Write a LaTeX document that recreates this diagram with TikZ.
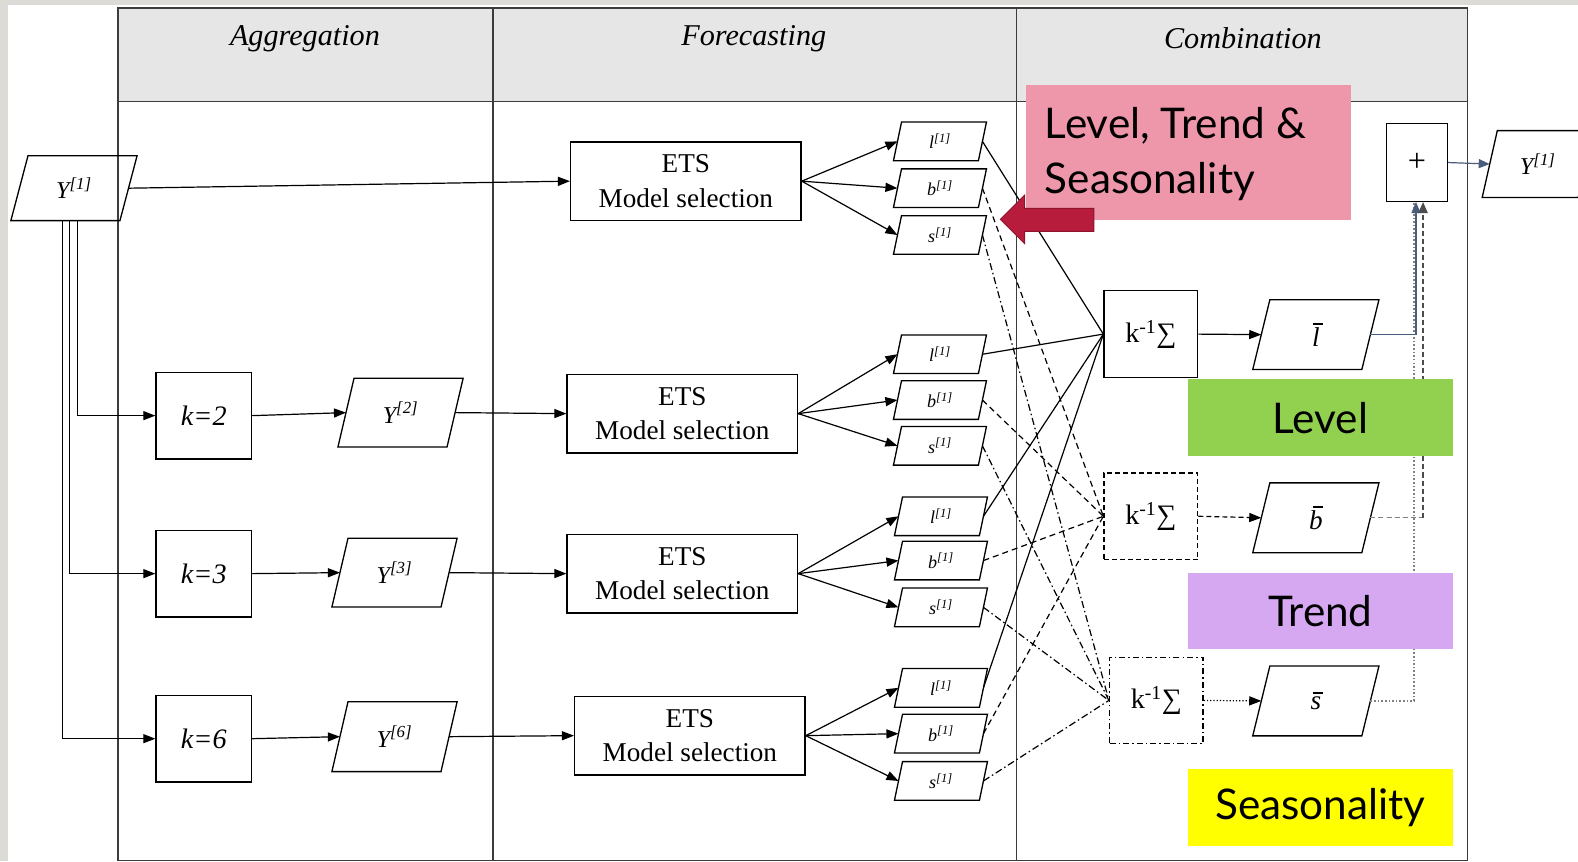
\documentclass[tikz,border=0pt]{standalone}
\usepackage{fontspec}
\setmainfont{Liberation Serif}
\newfontfamily\gsans{Lato}
\usetikzlibrary{arrows.meta,calc}
\definecolor{bggray}{RGB}{221,219,214}
\definecolor{hdrgray}{RGB}{230,230,230}
\definecolor{framecol}{RGB}{60,60,60}
\definecolor{pinkc}{RGB}{238,151,170}
\definecolor{redarr}{RGB}{183,28,60}
\definecolor{redarrdk}{RGB}{140,20,45}
\definecolor{greenc}{RGB}{146,208,80}
\definecolor{purplec}{RGB}{214,168,242}
\definecolor{yellowc}{RGB}{255,255,0}
\definecolor{bluegray}{RGB}{74,93,122}
\tikzset{
  frameline/.style={draw=framecol, line width=1.5pt},
  box/.style={draw, line width=1.3pt, inner sep=0pt},
  pnode/.style={inner sep=0pt},
  arr/.style={-{Triangle[length=12pt,width=9pt]}, line width=1.2pt},
  ln/.style={line width=1.2pt},
  dln/.style={line width=1.2pt, dash pattern=on 6pt off 4pt},
  ddln/.style={line width=1.2pt, dash pattern=on 7pt off 3pt on 1.5pt off 3pt},
  hdr/.style={font=\fontsize{30}{34}\selectfont\itshape},
  ets/.style={box, minimum width=229, minimum height=78, align=center, font=\fontsize{27}{33}\selectfont},
  kbox/.style={box, minimum width=95, minimum height=86, font=\fontsize{28}{30}\selectfont\itshape},
  sbox/.style={box, minimum width=93, minimum height=86, font=\fontsize{28}{30}\selectfont},
  tag/.style={inner sep=0pt, minimum width=264, minimum height=76, font=\gsans\fontsize{42}{50}\selectfont},
}
\newcommand\pbox[8]{% name, x, y, w, h, slant, font, text
  \node[pnode, minimum width=#4, minimum height=#5, font=#7] (#1) at (#2,#3) {#8};
  \draw[line width=1.3pt] ([xshift=#6/2]#1.north west) -- ([xshift=#6/2]#1.north east)
     -- ([xshift=-#6/2]#1.south east) -- ([xshift=-#6/2]#1.south west) -- cycle;}
\newcommand\Yf{\fontsize{24}{26}\selectfont\itshape}
\newcommand\Sf{\fontsize{18}{20}\selectfont\itshape}
\newcommand\Bf{\fontsize{27}{29}\selectfont\itshape}
\newcommand\barit[1]{\vbox{\offinterlineskip\halign{\hfil##\hfil\cr\kern0.14em\rule{0.36em}{0.06em}\cr\noalign{\kern0.1em}#1\cr}}}
\newcommand\ksum{k\textsuperscript{-1}\symbol{"2211}}
\begin{document}
\begin{tikzpicture}[x=1pt,y=-1pt]
\fill[bggray] (0,0) rectangle (1568,856);
\fill[white] (8,5) rectangle (1568,856);
\useasboundingbox (0,0) rectangle (1568,856);

% table frame
\fill[hdrgray] (117,8) rectangle (1458,101);
\draw[frameline] (117,8) rectangle (1458,855);
\draw[frameline] (117,101) -- (1458,101);
\draw[frameline] (490,8) -- (490,855);
\draw[frameline] (1010,8) -- (1010,855);
\node[hdr] (hA) at (303,38) {Aggregation};
\node[hdr] (hF) at (749,38) {Forecasting};
\node[hdr] (hC) at (1235,38) {Combination};

% inputs
\pbox{Y1in}{73.5}{187}{108}{64}{17}{\Yf}{Y\textsuperscript{[1]}}
\node[kbox] (k2) at (202.5,413) {k=2};
\node[kbox] (k3) at (202.5,570) {k=3};
\node[kbox] (k6) at (202.5,734) {k=6};
\pbox{Y2}{398}{410}{108}{68}{16}{\Yf}{Y\textsuperscript{[2]}}
\pbox{Y3}{392}{569}{108}{68}{16}{\Yf}{Y\textsuperscript{[3]}}
\pbox{Y6}{392}{732}{108}{69}{16}{\Yf}{Y\textsuperscript{[6]}}

% ETS boxes
\node[ets] (E1) at (681.5,180) {ETS\\[1pt]Model selection};
\node[ets] (E2) at (678,411) {ETS\\[1pt]Model selection};
\node[ets] (E3) at (678,570) {ETS\\[1pt]Model selection};
\node[ets] (E6) at (685.5,731) {ETS\\[1pt]Model selection};

% small component boxes
\pbox{l1}{934}{140.5}{84}{38}{8}{\Sf}{l\textsuperscript{[1]}}
\pbox{b1}{934}{187}{84}{38}{8}{\Sf}{b\textsuperscript{[1]}}
\pbox{s1}{934}{233.5}{84}{38}{8}{\Sf}{s\textsuperscript{[1]}}
\pbox{l2}{934}{352}{84}{38}{8}{\Sf}{l\textsuperscript{[1]}}
\pbox{b2}{934}{397.5}{84}{38}{8}{\Sf}{b\textsuperscript{[1]}}
\pbox{s2}{934}{443}{84}{38}{8}{\Sf}{s\textsuperscript{[1]}}
\pbox{l3}{935}{513}{84}{38}{8}{\Sf}{l\textsuperscript{[1]}}
\pbox{b3}{935}{557}{84}{38}{8}{\Sf}{b\textsuperscript{[1]}}
\pbox{s3}{935}{603.5}{84}{38}{8}{\Sf}{s\textsuperscript{[1]}}
\pbox{l6}{935}{683.5}{84}{38}{8}{\Sf}{l\textsuperscript{[1]}}
\pbox{b6}{935}{729}{84}{38}{8}{\Sf}{b\textsuperscript{[1]}}
\pbox{s6}{935}{776}{84}{38}{8}{\Sf}{s\textsuperscript{[1]}}

% combination
\node[sbox] (K1) at (1143.5,332) {\ksum};
\node[sbox, dash pattern=on 5pt off 3pt] (K2) at (1143.5,513) {\ksum};
\node[sbox, dash pattern=on 6pt off 3pt on 1.5pt off 3pt] (K3) at (1149,696) {\ksum};
\pbox{lbar}{1307.5}{332.5}{108}{69}{17}{\Bf}{\barit{l}}
\pbox{bbar}{1307.5}{514.5}{108}{69}{17}{\Bf}{\barit{b}}
\pbox{sbar}{1307.5}{696.5}{108}{69}{17}{\Bf}{\barit{s}}
\node[box, minimum width=60, minimum height=77, font=\fontsize{32}{34}\selectfont] (plus) at (1408,161.5) {+};
\pbox{Yout}{1528}{163}{95}{66}{15}{\Yf}{Y\textsuperscript{[1]}}

% connectors: aggregation
\draw[arr] (Y1in.east) -- (E1.west);
\draw[arr] ([xshift=3.5]Y1in.south) |- (k2.west);
\draw[arr] ([xshift=-4.5]Y1in.south) |- (k3.west);
\draw[arr] ([xshift=-11.5]Y1in.south) |- (k6.west);
\draw[arr] (k2.east) -- (Y2.west);
\draw[arr] (k3.east) -- (Y3.west);
\draw[arr] (k6.east) -- (Y6.west);
\draw[arr] (Y2.east) -- (E2.west);
\draw[arr] (Y3.east) -- (E3.west);
\draw[arr] (Y6.east) -- (E6.west);

% ETS to components
\foreach \e/\g in {E1/1,E2/2,E3/3,E6/6}{
  \draw[arr] (\e.east) -- (l\g.west);
  \draw[arr] (\e.east) -- (b\g.west);
  \draw[arr] (\e.east) -- (s\g.west);
  \draw[ln] (l\g.east) -- (K1.west);
  \draw[dln] (b\g.east) -- (K2.west);
  \draw[ddln] (s\g.east) -- (K3.west);
}

% combination to output
\draw[arr] (K1.east) -- (lbar.west);
\draw[arr, dash pattern=on 5pt off 3pt] (K2.east) -- (bbar.west);
\draw[arr, dotted] (K3.east) -- (sbar.west);
\coordinate (sx) at ([xshift=-3]plus.south);
\coordinate (lx) at ([xshift=-1]plus.south);
\coordinate (bx) at ([xshift=6]plus.south);
\draw[gray, line width=1.6pt, dotted] (sbar.east) -| (sx);
\draw[bluegray, line width=1.2pt, -{Triangle[length=11pt,width=9pt]}] (lbar.east) -| (lx);
\draw[gray, line width=1.2pt, dash pattern=on 5pt off 3pt] (bbar.east) -- (bbar.east -| bx);
\draw[black!70, line width=2pt, dash pattern=on 5pt off 3pt, -{Triangle[length=11pt,width=9pt]}] (bbar.east -| bx) -- (bx);
\draw[bluegray, line width=1.2pt, -{Triangle[length=11pt,width=9pt]}] (plus.east) -- (Yout.west);

% coloured annotations
\node[tag, fill=pinkc, minimum width=323, minimum height=134, anchor=north west] (pink) at (1019,84) {};
\node[anchor=west, align=left, inner sep=0pt, font=\gsans\fontsize{42}{55}\selectfont] (pinktxt) at (1038,153) {Level, Trend \&\\Seasonality};
\fill[redarr, draw=redarrdk, line width=1pt] (994,218) -- (1018,194) -- (1018,207) -- (1087,207) -- (1087,230) -- (1018,230) -- (1018,242) -- cycle;
\node[tag, fill=greenc] (lev) at (1312,415) {Level};
\node[tag, fill=purplec] (tre) at (1312,607) {Trend};
\node[tag, fill=yellowc] (sea) at (1312,802.5) {Seasonality};
\end{tikzpicture}
\end{document}
